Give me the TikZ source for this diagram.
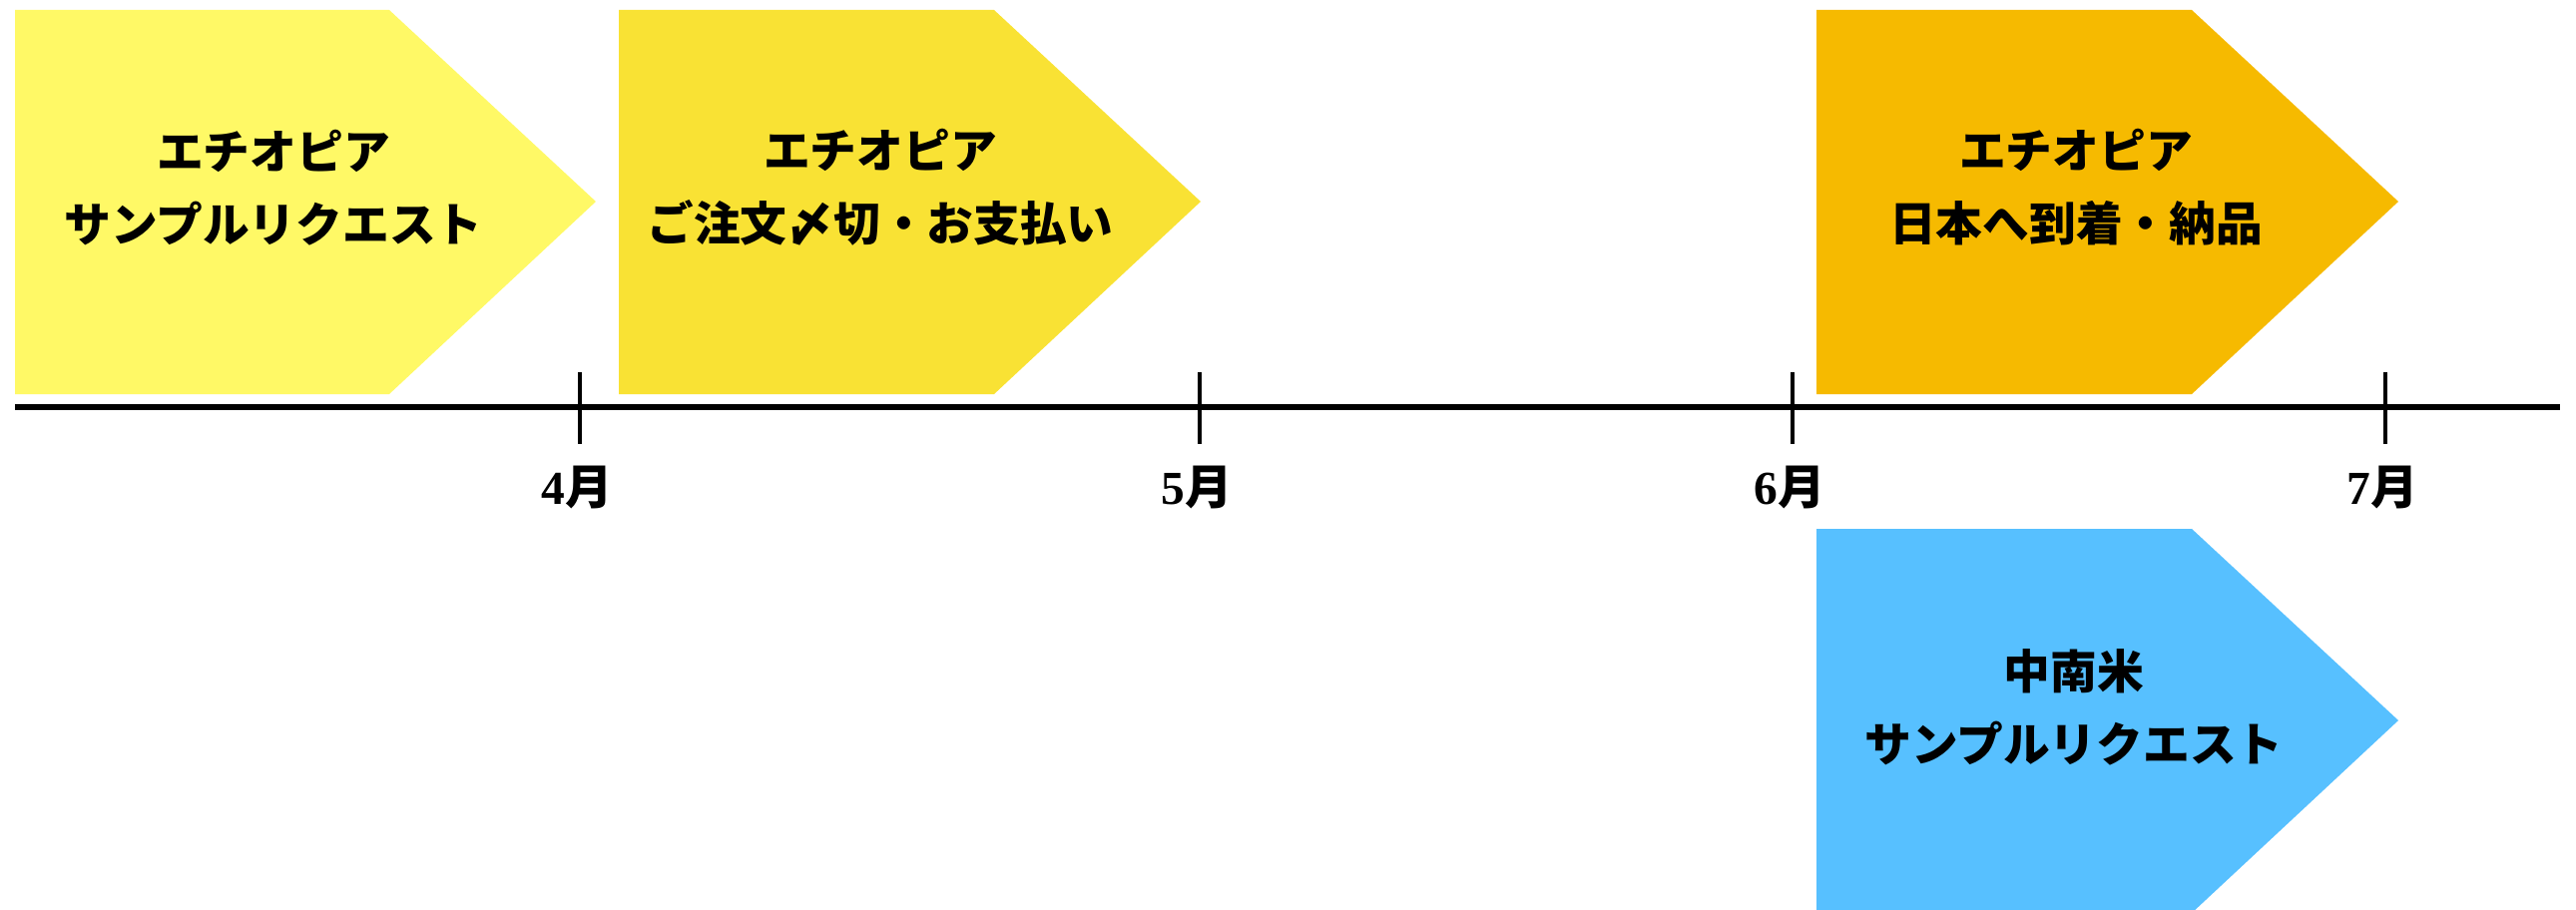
\documentclass[tikz,border=0pt]{standalone}
\usepackage{fontspec}
\setmainfont{Liberation Serif}
\newfontfamily\cjk{Noto Sans CJK JP}
\definecolor{cA}{RGB}{255,249,102}
\definecolor{cB}{RGB}{249,226,52}
\definecolor{cC}{RGB}{246,186,0}
\definecolor{cD}{RGB}{87,192,255}
\tikzset{
  chevtext/.style={align=center,font=\cjk\bfseries\fontsize{26.6pt}{41.5pt}\selectfont,inner sep=0pt},
  monthlabel/.style={font=\bfseries\fontsize{27pt}{32pt}\selectfont,inner sep=0pt},
  axisline/.style={line width=2.9pt,black},
  tickline/.style={line width=1.9pt,black}
}
\begin{document}
\begin{tikzpicture}[x=0.02cm,y=-0.02cm]
\useasboundingbox (0,0) rectangle (2581,912);
% chevrons
\fill[cA] (15,10) -- (390,10) -- (597,202) -- (390,395) -- (15,395) -- cycle;
\fill[cB] (620,10) -- (996,10) -- (1203,202) -- (996,395) -- (620,395) -- cycle;
\fill[cC] (1820,10) -- (2196,10) -- (2403,202) -- (2196,395) -- (1820,395) -- cycle;
\fill[cD] (1820,530) -- (2196,530) -- (2403,722) -- (2196,915) -- (1820,915) -- cycle;
% texts
\node[chevtext] (t1) at (274,188) {エチオピア\\サンプルリクエスト};
\node[chevtext] (t2) at (882,188) {エチオピア\\ご注文〆切・お支払い};
\node[chevtext] (t3) at (2080,188) {エチオピア\\日本へ到着・納品};
\node[chevtext] (t4) at (2078,709) {中南米\\サンプルリクエスト};
% axis
\coordinate (a0) at (15,408);
\coordinate (a1) at (2565,408);
\draw[axisline] (a0) -- (a1);
\foreach \x/\m [count=\i] in {581/4,1202/5,1796/6,2390/7}{
  \coordinate (tt\i) at (\x,373);
  \coordinate (tb\i) at (\x,445);
  \draw[tickline] (tt\i) -- (tb\i);
  \node[monthlabel] (m\i) at (\x-3,489) {\m{\cjk 月}};
}
\end{tikzpicture}
\end{document}
